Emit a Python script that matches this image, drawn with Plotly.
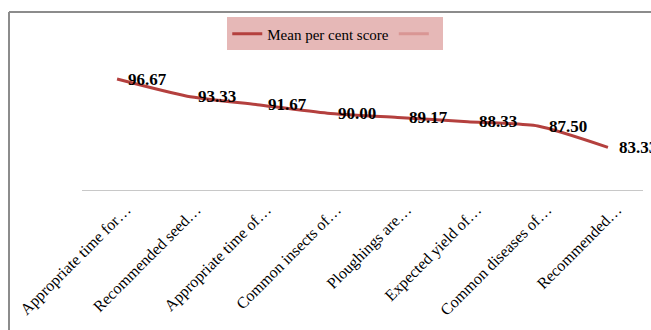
import plotly.graph_objects as go

categories = [
    "Appropriate time for…",
    "Recommended seed…",
    "Appropriate time of…",
    "Common insects of…",
    "Ploughings are…",
    "Expected yield of…",
    "Common diseases of…",
    "Recommended…",
]
scores = [96.67, 93.33, 91.67, 90.00, 89.17, 88.33, 87.50, 83.33]
labels = [f"{v:.2f}" for v in scores]
series_name = "Mean per cent score"

fig = go.Figure()
fig.add_trace(go.Scatter(
    x=categories, y=scores, mode="lines", name=series_name,
    line=dict(color="#b4403e", width=3, shape="spline", smoothing=0.6),
    cliponaxis=False,
))
fig.add_trace(go.Scatter(
    x=categories, y=[None] * len(categories), mode="lines", name=" ",
    line=dict(color="#d99694", width=3),
))

for c, v, t in zip(categories, scores, labels):
    fig.add_annotation(
        x=c, y=v, text=t, showarrow=False, xanchor="left", yanchor="middle",
        xshift=9, yshift=0,
        font=dict(family="Liberation Serif", size=17, color="black", weight="bold"),
    )

fig.update_layout(
    width=651, height=330,
    margin=dict(l=82, r=8, t=62, b=140, autoexpand=False),
    paper_bgcolor="white", plot_bgcolor="white",
    showlegend=True,
    legend=dict(
        orientation="h", xref="container", yref="container",
        x=0.515, xanchor="center", y=0.897, yanchor="middle",
        bgcolor="#e6b8b7", font=dict(family="Liberation Serif", size=15, color="black"),
        itemwidth=30,
    ),
    xaxis=dict(
        showgrid=False, showline=True, linecolor="#c8c8c8", linewidth=1,
        tickangle=-45, ticks="", automargin=False, range=[-0.5, 7.5],
        ticklabelshift=9, ticklabelstandoff=3,
        tickfont=dict(family="Liberation Serif", size=16, color="black"),
    ),
    yaxis=dict(range=[75, 100], visible=False, showgrid=False, automargin=False),
)

# outer frame (partially visible)
x0, x1 = (9 - 82) / 561, (660 - 82) / 561
y0, y1 = (190 - 340) / 128, (190 - 12) / 128
fig.add_shape(type="line", xref="paper", yref="paper", x0=x0, x1=x0, y0=y0, y1=y1,
              line=dict(color="#8c8c8c", width=2))
fig.add_shape(type="line", xref="paper", yref="paper", x0=x0, x1=x1, y0=y1, y1=y1,
              line=dict(color="#8c8c8c", width=2))

fig.write_html("out.html")
